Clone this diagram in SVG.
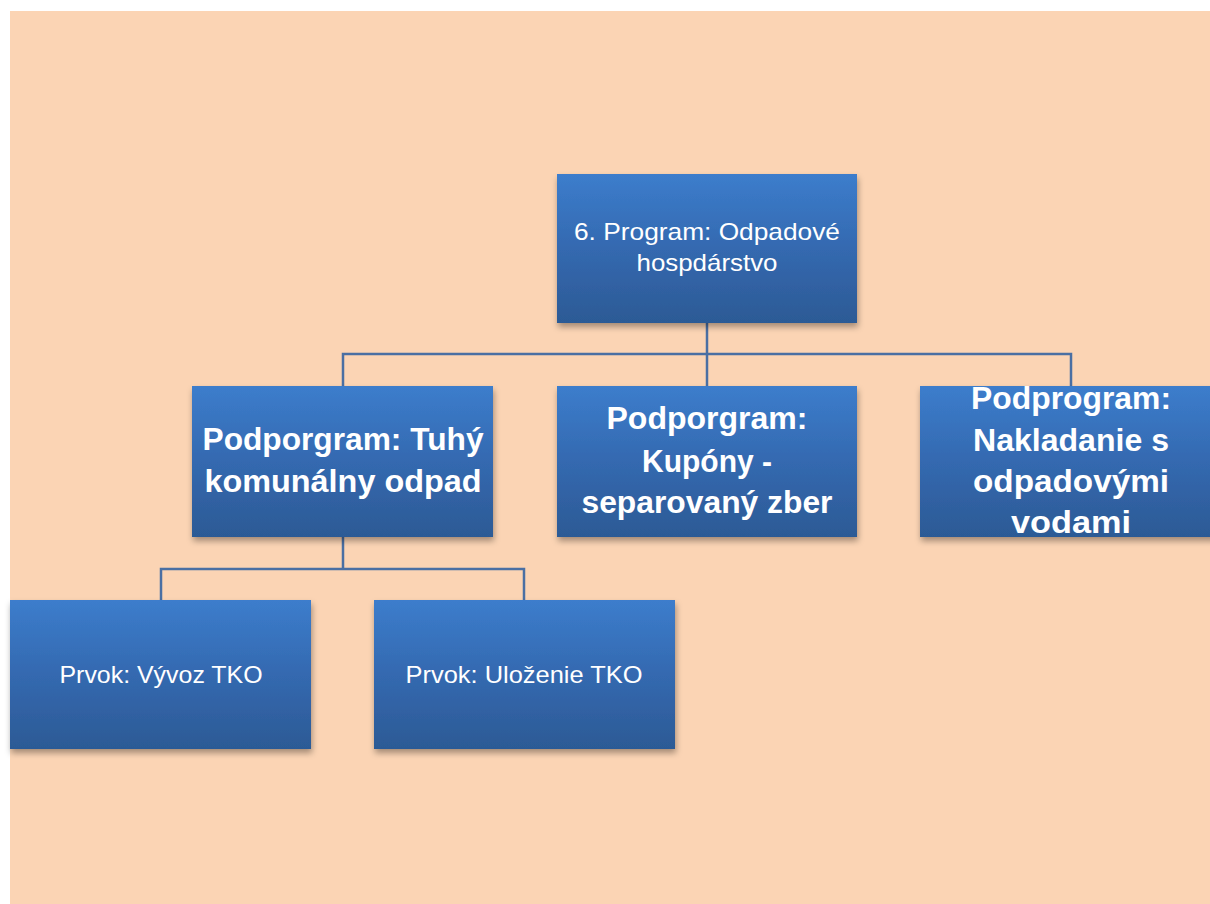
<svg xmlns="http://www.w3.org/2000/svg" width="1210" height="904" viewBox="0 0 1210 904">
<style>
.box{fill:url(#g);filter:url(#sh)}
.conn{fill:none;stroke:#4a6fa3;stroke-width:2.5}
.t{fill:#ffffff;font-family:"Liberation Sans",Arial,sans-serif;text-anchor:middle}
.r{font-size:24px}
.b{font-size:32px;font-weight:bold}
</style>
<defs>
<linearGradient id="g" x1="0" y1="0" x2="0" y2="1">
<stop offset="0" stop-color="#3c7dcc"/>
<stop offset="0.5" stop-color="#3469b0"/>
<stop offset="1" stop-color="#2c5a95"/>
</linearGradient>
<filter id="sh" x="-10%" y="-10%" width="120%" height="125%">
<feDropShadow dx="1" dy="4" stdDeviation="3" flood-color="#000" flood-opacity="0.35"/>
</filter>
</defs>
<rect x="0" y="0" width="1210" height="904" fill="#ffffff"/>
<rect x="10" y="11" width="1200" height="893" fill="#fbd4b4"/>
<g id="connectors">
<path class="conn" d="M707 323 V354 M343 386 V354 H1071 V386 M707 354 V386"/>
<path class="conn" d="M343 537 V569 M161 600 V569 H524 V600"/>
</g>
<g id="n-program">
<rect class="box" x="557" y="174" width="300" height="149"/>
<text class="t r"><tspan x="707" y="240" textLength="266" lengthAdjust="spacingAndGlyphs">6. Program: Odpadové</tspan><tspan x="707" y="271" textLength="141" lengthAdjust="spacingAndGlyphs">hospdárstvo</tspan></text>
</g>
<g id="n-tko">
<rect class="box" x="192" y="386" width="301" height="151"/>
<text class="t b"><tspan x="343" y="450" textLength="281" lengthAdjust="spacingAndGlyphs">Podporgram: Tuhý</tspan><tspan x="343" y="492" textLength="277" lengthAdjust="spacingAndGlyphs">komunálny odpad</tspan></text>
</g>
<g id="n-kupony">
<rect class="box" x="557" y="386" width="300" height="151"/>
<text class="t b"><tspan x="707" y="429" textLength="201" lengthAdjust="spacingAndGlyphs">Podporgram:</tspan><tspan x="707" y="472" textLength="130" lengthAdjust="spacingAndGlyphs">Kupóny -</tspan><tspan x="707" y="513" textLength="251" lengthAdjust="spacingAndGlyphs">separovaný zber</tspan></text>
</g>
<g id="n-vody">
<rect class="box" x="920" y="386" width="301" height="151"/>
<text class="t b"><tspan x="1071" y="409" textLength="200" lengthAdjust="spacingAndGlyphs">Podprogram:</tspan><tspan x="1071" y="451" textLength="196" lengthAdjust="spacingAndGlyphs">Nakladanie s</tspan><tspan x="1071" y="492" textLength="196" lengthAdjust="spacingAndGlyphs">odpadovými</tspan><tspan x="1071" y="533" textLength="120" lengthAdjust="spacingAndGlyphs">vodami</tspan></text>
</g>
<g id="n-vyvoz">
<rect class="box" x="10" y="600" width="301" height="149"/>
<text class="t r" x="161" y="683" textLength="203" lengthAdjust="spacingAndGlyphs">Prvok: Vývoz TKO</text>
</g>
<g id="n-ulozenie">
<rect class="box" x="374" y="600" width="301" height="149"/>
<text class="t r" x="524" y="683" textLength="237" lengthAdjust="spacingAndGlyphs">Prvok: Uloženie TKO</text>
</g>
</svg>
